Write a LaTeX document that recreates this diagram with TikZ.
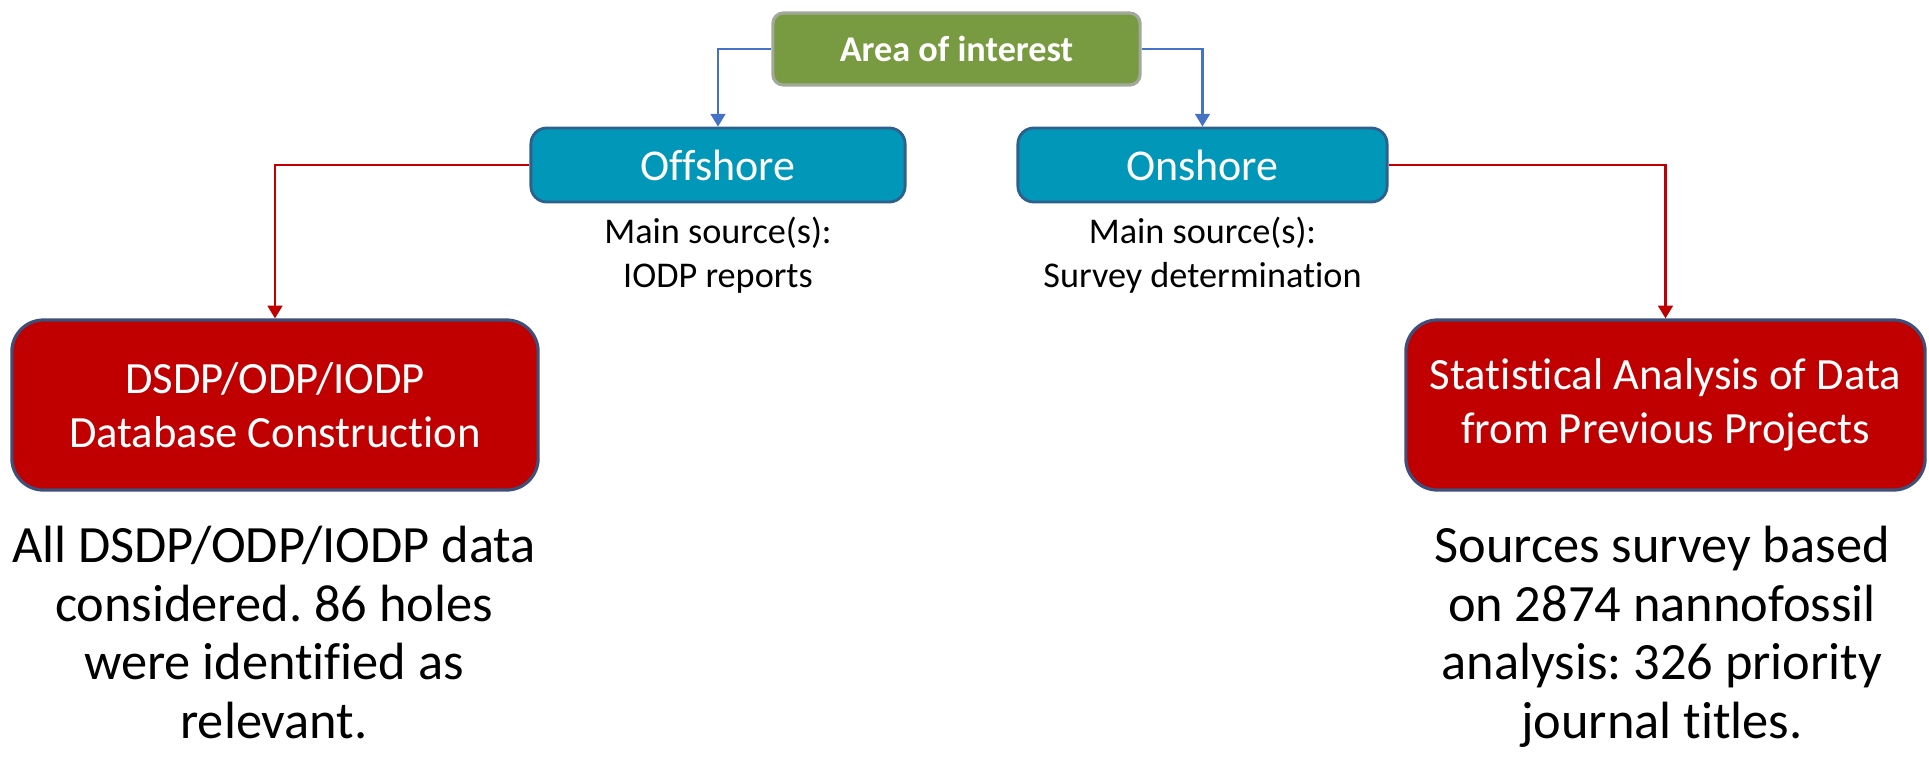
\documentclass[tikz,border=0pt]{standalone}
\usepackage{fontspec}
\setmainfont{Carlito}[Ligatures=NoCommon]
\usetikzlibrary{arrows.meta}
\frenchspacing

\definecolor{areagreen}{HTML}{789A40}
\definecolor{areaedge}{HTML}{A2A89A}
\definecolor{shoreteal}{HTML}{0097B8}
\definecolor{shoreedge}{HTML}{2F5F8C}
\definecolor{taskred}{HTML}{C00000}
\definecolor{taskedge}{HTML}{3E5079}
\definecolor{linkblue}{HTML}{4472C4}

\tikzset{
  areabox/.style={draw=areaedge, line width=0.9pt, fill=areagreen, rounded corners=3pt,
    inner sep=0pt, text=white, font=\fontsize{10.3}{12}\selectfont\bfseries},
  shorebox/.style={draw=shoreedge, line width=0.8pt, fill=shoreteal, rounded corners=4.5pt,
    inner sep=0pt, text=white, font=\fontsize{12.5}{15}\selectfont},
  taskbox/.style={draw=taskedge, line width=0.9pt, fill=taskred, rounded corners=9pt,
    inner sep=0pt, text=white, align=center, font=\fontsize{12.7}{15.3}\selectfont},
  sourcenote/.style={align=center, inner sep=0pt, font=\fontsize{10.3}{12.4}\selectfont},
  resultnote/.style={align=center, inner sep=0pt, font=\fontsize{14.9}{16.6}\selectfont},
  bluelink/.style={draw=linkblue, line width=0.6pt, -{Triangle[width=4.2pt,length=3.6pt]}},
  redlink/.style={draw=taskred, line width=0.6pt, -{Triangle[width=4.2pt,length=3.6pt]}}
}

\begin{document}
\begin{tikzpicture}[x=0.01cm, y=-0.01cm]
  \useasboundingbox (0,0) rectangle (1929,757);

  % hierarchy boxes
  \node[areabox, minimum width=3.67cm, minimum height=0.72cm] (area) at (956.5,49) {Area of interest};
  \node[shorebox, minimum width=3.74cm, minimum height=0.74cm] (off) at (718,165) {Offshore};
  \node[shorebox, minimum width=3.69cm, minimum height=0.74cm] (on) at (1202.5,165) {Onshore};
  \node[taskbox, minimum width=5.26cm, minimum height=1.70cm] (dsdp) at (275,405)
    {DSDP/ODP/IODP\\Database Construction};
  \node[taskbox, minimum width=5.19cm, minimum height=1.70cm] (stats) at (1665.5,405)
    {Statistical Analysis of Data\\from Previous Projects};

  % source notes under the shore boxes (anchored on their last baseline)
  \node[sourcenote, anchor=base] (offsrc) at (718,287) {Main source(s):\\IODP reports};
  \node[sourcenote, anchor=base] (onsrc) at (1202.5,287) {Main source(s):\\Survey determination};

  % result notes under the task boxes (anchored on their last baseline)
  \node[resultnote, anchor=base] (dsdpnote) at (274,738)
    {All DSDP/ODP/IODP data\\considered. 86 holes\\were identified as\\relevant.};
  \node[resultnote, anchor=base] (statsnote) at (1662,738)
    {Sources survey based\\on 2874 nannofossil\\analysis: 326 priority\\journal titles.};

  % connectors
  \draw[bluelink] (area.west) -| (off.north);
  \draw[bluelink] (area.east) -| (on.north);
  \draw[redlink] (off.west) -| (dsdp.north);
  \draw[redlink] (on.east) -| (stats.north);
\end{tikzpicture}
\end{document}
